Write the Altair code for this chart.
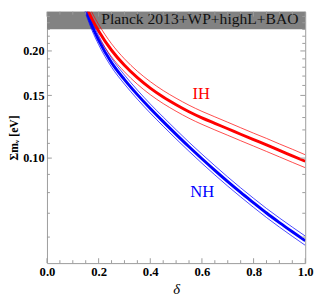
import altair as alt
import pandas as pd

# ---- data ----
delta = [0.13, 0.14, 0.15, 0.175, 0.20, 0.25, 0.30, 0.35, 0.40, 0.45, 0.50,
         0.55, 0.60, 0.65, 0.70, 0.75, 0.80, 0.85, 0.90, 0.95, 1.00]
nh_mid = [0.2895, 0.2749, 0.262, 0.2347, 0.2145, 0.1855, 0.1662, 0.1508, 0.1378, 0.1266, 0.1166,
          0.1076, 0.0996, 0.0924, 0.0859, 0.0801, 0.0749, 0.0701, 0.0659, 0.0621, 0.0586]
nh_hi = [0.2982, 0.2831, 0.2699, 0.2417, 0.2209, 0.1911, 0.1712, 0.1553, 0.1419, 0.1304, 0.1201,
         0.1108, 0.1026, 0.0952, 0.0885, 0.0825, 0.0771, 0.0722, 0.0679, 0.0640, 0.0604]
nh_lo = [0.2811, 0.2669, 0.2544, 0.2279, 0.2083, 0.1801, 0.1614, 0.1464, 0.1338, 0.1229, 0.1132,
         0.1045, 0.0967, 0.0897, 0.0834, 0.0778, 0.0727, 0.0681, 0.0640, 0.0603, 0.0569]
ih_mid = [0.2908, 0.2788, 0.2684, 0.2453, 0.2276, 0.2009, 0.1822, 0.1682, 0.1572, 0.1484, 0.1412,
          0.1350, 0.1297, 0.1252, 0.1209, 0.1167, 0.1127, 0.1089, 0.1051, 0.1015, 0.0980]
ih_hi = [0.3033, 0.2908, 0.2799, 0.2558, 0.2374, 0.2095, 0.1900, 0.1754, 0.1640, 0.1548, 0.1473,
         0.1408, 0.1353, 0.1306, 0.1261, 0.1217, 0.1175, 0.1136, 0.1096, 0.1059, 0.1022]
ih_lo = [0.2788, 0.2673, 0.2573, 0.2352, 0.2182, 0.1926, 0.1747, 0.1613, 0.1507, 0.1423, 0.1354,
         0.1294, 0.1244, 0.1200, 0.1159, 0.1119, 0.1081, 0.1044, 0.1008, 0.0973, 0.0940]

planck_limit = 0.23
band_label = "Planck 2013+WP+highL+BAO"
x_major = [0.0, 0.2, 0.4, 0.6, 0.8, 1.0]
x_minor = [0.05, 0.1, 0.15, 0.25, 0.3, 0.35, 0.45, 0.5, 0.55, 0.65, 0.7, 0.75, 0.85, 0.9, 0.95]
y_major = [0.10, 0.15, 0.20]
y_minor = [0.06, 0.07, 0.08, 0.09, 0.11, 0.12, 0.13, 0.14, 0.16, 0.17, 0.18, 0.19,
           0.21, 0.22, 0.23, 0.24, 0.25]
labels = ["IH", "NH"]
label_x = [0.597, 0.601]
label_y = [0.1509, 0.0801]

# ---- layout ----
W, H = 265, 258
x_dom = [0.0, 1.0]
y_dom = [0.0507, 0.2578]
FRAME = "#9a9a9a"
SERIF = "Liberation Serif"

rows = []
for series, kind, arr in [("NH", "mid", nh_mid), ("NH", "hi", nh_hi), ("NH", "lo", nh_lo),
                          ("IH", "mid", ih_mid), ("IH", "hi", ih_hi), ("IH", "lo", ih_lo)]:
    for d, v in zip(delta, arr):
        rows.append({"delta": d, "m": v, "series": series, "kind": kind,
                     "grp": series + kind})
df = pd.DataFrame(rows)

xs = alt.Scale(domain=x_dom, nice=False, zero=False)
ys = alt.Scale(type="log", domain=y_dom, nice=False)
col = alt.Scale(domain=["NH", "IH"], range=["#0000ff", "#ff0000"])

AX = alt.Axis(values=x_major, format=".1f", grid=False, ticks=False, tickSize=0,
              domain=False, labelFont=SERIF, labelFontWeight="bold", labelFontSize=13,
              labelColor="black", labelPadding=3, labelFlush=False,
              titleFont=SERIF, titleFontStyle="italic",
              titleFontWeight="normal", titleFontSize=15, titleColor="black",
              titleY=31, titleBaseline="alphabetic")
AY = alt.Axis(values=y_major, format=".2f", grid=False, ticks=False, tickSize=0,
              domain=False, labelFont=SERIF, labelFontWeight="bold", labelFontSize=12.5,
              labelColor="black", labelPadding=3, labelFlush=False,
              titleFont=SERIF, titleFontWeight="bold",
              titleFontSize=12, titleColor="black", titleX=-39, titleBaseline="top")
XT = "δ"
YT = "Σmᵥ [eV]"


def X(f):
    return alt.X(f, scale=xs, axis=AX, title=XT)


def Y(f):
    return alt.Y(f, scale=ys, axis=AY, title=YT)


band = alt.Chart(pd.DataFrame({"x0": [x_dom[0]], "x1": [x_dom[1]],
                               "y0": [planck_limit], "y1": [y_dom[1]]})).mark_rect(
    color="#828282").encode(x=X("x0:Q"), x2="x1", y=Y("y0:Q"), y2="y1")

base = alt.Chart(df)
thin = base.transform_filter(alt.datum.kind != "mid").mark_line(
    strokeWidth=0.9, clip=True, interpolate="monotone", opacity=0.8).encode(
    x=X("delta:Q"), y=Y("m:Q"),
    color=alt.Color("series:N", scale=col, legend=None), detail="grp:N")

thick = base.transform_filter(alt.datum.kind == "mid").mark_line(
    strokeWidth=3, clip=True, interpolate="monotone").encode(
    x=X("delta:Q"), y=Y("m:Q"),
    color=alt.Color("series:N", scale=col, legend=None), detail="grp:N")

band_text = alt.Chart(pd.DataFrame({"t": [band_label], "x": [0.974], "y": [0.2451]})).mark_text(
    font=SERIF, fontSize=16, color="#111111", align="right", baseline="middle").encode(
    x=X("x:Q"), y=Y("y:Q"), text="t:N")

lab = alt.Chart(pd.DataFrame({"t": labels, "x": label_x, "y": label_y,
                              "series": labels})).mark_text(
    font=SERIF, fontSize=17, align="center", baseline="middle").encode(
    x=X("x:Q"), y=Y("y:Q"), text="t:N",
    color=alt.Color("series:N", scale=col, legend=None))

xt = pd.DataFrame({"v": x_major + x_minor, "len": [5] * len(x_major) + [3] * len(x_minor)})
yt = pd.DataFrame({"v": y_major + y_minor, "len": [5] * len(y_major) + [3] * len(y_minor)})


def xticks(L, top):
    c = alt.Chart(xt[xt["len"] == L]).mark_rule(color=FRAME, strokeWidth=1)
    if top:
        return c.encode(x=X("v:Q"), y=alt.value(0), y2=alt.value(L))
    return c.encode(x=X("v:Q"), y=alt.value(H), y2=alt.value(H - L))


def yticks(L, right):
    c = alt.Chart(yt[yt["len"] == L]).mark_rule(color=FRAME, strokeWidth=1)
    if right:
        return c.encode(y=Y("v:Q"), x=alt.value(W), x2=alt.value(W - L))
    return c.encode(y=Y("v:Q"), x=alt.value(0), x2=alt.value(L))


tick_layers = []
for L in (5, 3):
    tick_layers += [xticks(L, False), xticks(L, True), yticks(L, False), yticks(L, True)]

chart = alt.layer(band, thin, thick, band_text, lab, *tick_layers).properties(
    width=W, height=H,
    autosize=alt.AutoSizeParams(type="none"),
    padding={"left": 40, "top": 0, "right": 9, "bottom": 32},
).configure_view(stroke=FRAME, strokeWidth=1)

chart.save("out.html", embed_options={"renderer": "svg", "actions": False})
